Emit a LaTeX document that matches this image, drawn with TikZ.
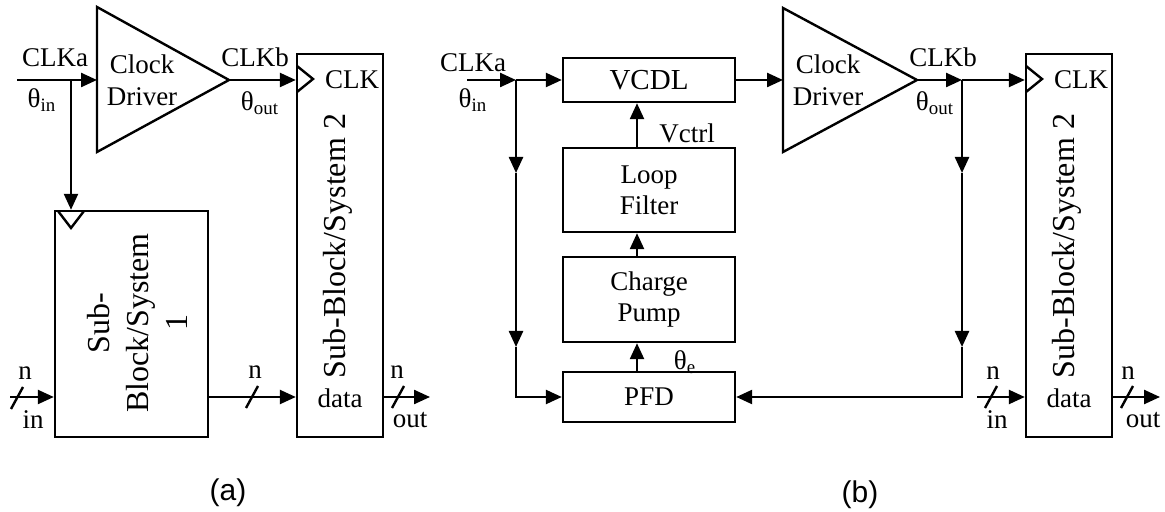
\documentclass[tikz,border=0pt]{standalone}
\usepackage{fontspec}
\setmainfont{Liberation Serif}
\setsansfont{Liberation Sans}
\usetikzlibrary{arrows.meta, positioning, calc}
\tikzset{
  sig/.style={line width=1.2pt, -{Triangle[length=8pt,width=7pt]}},
  wire/.style={line width=1.2pt, line join=miter},
  box/.style={rectangle, draw, line width=1.2pt, inner sep=0pt, align=center,
    minimum width=86pt, font=\fontsize{13.5}{15.5}\selectfont},
  lbl/.style={inner sep=0pt, align=center, font=\fontsize{13.5}{16}\selectfont},
  vlbl/.style={rotate=90, align=center, inner sep=0pt, font=\fontsize{16}{19.5}\selectfont},
  caption/.style={inner sep=0pt, font=\sffamily\fontsize{15}{18}\selectfont}
}
\newcommand{\busslash}[1]{\draw[line width=1.2pt] ($(#1)+(-6,11)$) -- ($(#1)+(6,-11)$);}

\begin{document}
\begin{tikzpicture}[x=0.5pt, y=-0.5pt]
  \useasboundingbox (0,0) rectangle (1165,512);

  % (a) plain clock distribution
  \coordinate (drvaw) at (97,80);
  \coordinate (drvae) at (229,80);
  \draw[wire] (97,7) -- (drvae) -- (97,152) -- cycle;
  \node[lbl] (drvatxt) at (142,80) {Clock\\Driver};

  \node[box, minimum width=76.5pt, minimum height=113pt] (blk1) at (131.5,324) {};
  \node[vlbl] (blk1txt) at (137,323) {Sub-\\Block/System\\1};
  \draw[wire] (58,211) -- (71,228) -- (84,211);

  \node[box, minimum width=43pt, minimum height=191.5pt] (blk2a) at (340,245.5) {};
  \node[vlbl] (blk2atxt) at (338,246) {Sub-Block/System 2};
  \node[lbl] (clkpa) at (352,80) {CLK};
  \draw[wire] (297,66) -- (313,79) -- (297,92);
  \node[lbl] (dataa) at (340,398) {data};

  \node[lbl] (clkaa) at (55,58) {CLKa};
  \node[lbl] (thina) at (42,100) {θ\textsubscript{in}};
  \node[lbl] (clkba) at (255,57) {CLKb};
  \node[lbl] (thouta) at (260,103) {θ\textsubscript{out}};

  \coordinate (ina) at (17,80);
  \coordinate (ja) at (71,80);
  \draw[sig] (ina) -- (drvaw);
  \draw[sig] (ja) -- (ja |- blk1.north);
  \draw[sig] (drvae) -- (drvae -| blk2a.west);

  \coordinate (dina) at (10,397);
  \coordinate (douta) at (430,397);
  \draw[sig] (dina) -- (dina -| blk1.west);
  \draw[sig] (blk1.east |- dina) -- (blk2a.west |- dina);
  \draw[sig] (blk2a.east |- dina) -- (douta);
  \busslash{17,398}
  \busslash{252,397}
  \busslash{398,397}
  \node[lbl] (na1) at (25,373) {n};
  \node[lbl] (ina1) at (33,420) {in};
  \node[lbl] (na2) at (255,372) {n};
  \node[lbl] (na3) at (397,372) {n};
  \node[lbl] (outa) at (410,420) {out};
  \node[caption] (capa) at (228,493) {(a)};

  % (b) with delay-locked loop
  \node[box, minimum height=22pt, font=\fontsize{14.5}{16}\selectfont] (vcdl) at (649,80) {VCDL};
  \node[box, minimum height=42pt] (lf) at (649,190) {Loop\\Filter};
  \node[box, minimum height=42.5pt] (cp) at (649,299.5) {Charge\\Pump};
  \node[box, minimum height=25pt] (pfd) at (649,397) {PFD};

  \coordinate (drvbw) at (783,80);
  \coordinate (drvbe) at (917,80);
  \draw[wire] (783,8) -- (drvbe) -- (783,152) -- cycle;
  \node[lbl] (drvbtxt) at (828,80) {Clock\\Driver};

  \node[box, minimum width=43pt, minimum height=191.5pt] (blk2b) at (1069,245.5) {};
  \node[vlbl] (blk2btxt) at (1067,246) {Sub-Block/System 2};
  \node[lbl] (clkpb) at (1081,80) {CLK};
  \draw[wire] (1026,66) -- (1042,79) -- (1026,92);
  \node[lbl] (datab) at (1069,398) {data};

  \node[lbl] (clkab) at (473,63) {CLKa};
  \node[lbl] (thinb) at (473,100) {θ\textsubscript{in}};
  \node[lbl] (clkbb) at (943,57) {CLKb};
  \node[lbl] (thoutb) at (935,103) {θ\textsubscript{out}};
  \node[lbl] (vctrl) at (687,133) {Vctrl};
  \node[lbl] (the) at (685,362) {θ\textsubscript{e}};

  \coordinate (inb) at (467,80);
  \coordinate (jl) at (516,80);
  \coordinate (jl1) at (516,173);
  \coordinate (jl2) at (516,347);
  \coordinate (jr) at (962,80);
  \coordinate (jr1) at (962,173);
  \coordinate (jr2) at (962,347);
  \coordinate (vx) at (637,0);

  \draw[sig] (inb) -- (jl);
  \draw[sig] (jl) -- (vcdl.west);
  \draw[sig] (jl) -- (jl1);
  \draw[sig] (jl1) -- (jl2);
  \draw[sig] (jl2) |- (pfd.west);
  \draw[sig] (vcdl.east) -- (drvbw);
  \draw[sig] (drvbe) -- (jr);
  \draw[sig] (jr) -- (jr -| blk2b.west);
  \draw[sig] (jr) -- (jr1);
  \draw[sig] (jr1) -- (jr2);
  \draw[sig] (jr2) |- (pfd.east);
  \draw[sig] (pfd.north -| vx) -- (cp.south -| vx);
  \draw[sig] (cp.north -| vx) -- (lf.south -| vx);
  \draw[sig] (lf.north -| vx) -- (vcdl.south -| vx);

  \coordinate (dinb) at (977,397);
  \coordinate (doutb) at (1160,397);
  \draw[sig] (dinb) -- (dinb -| blk2b.west);
  \draw[sig] (blk2b.east |- dinb) -- (doutb);
  \busslash{991,397}
  \busslash{1127,397}
  \node[lbl] (nb1) at (993,373) {n};
  \node[lbl] (inb1) at (997,420) {in};
  \node[lbl] (nb2) at (1128,373) {n};
  \node[lbl] (outb) at (1143,420) {out};
  \node[caption] (capb) at (860,495) {(b)};
\end{tikzpicture}
\end{document}
